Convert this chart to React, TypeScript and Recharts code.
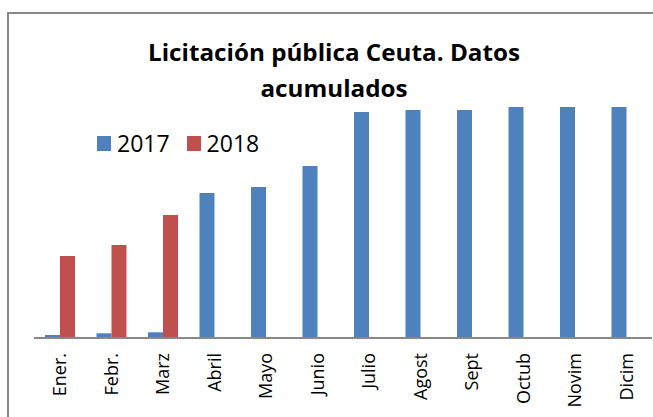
import React from 'react';
import { BarChart, Bar, XAxis, YAxis, Legend } from 'recharts';

const months = ['Ener.', 'Febr.', 'Marz', 'Abril', 'Mayo', 'Junio', 'Julio', 'Agost', 'Sept', 'Octub', 'Novim', 'Dicim'];
const values2017 = [3, 4.7, 5.7, 145, 151, 172, 226, 228, 228, 231, 231, 231];
const values2018 = [82, 93, 123, null, null, null, null, null, null, null, null, null];

const data = months.map((m, i) => ({ mes: m, y2017: values2017[i], y2018: values2018[i] }));

const FONT = '"Open Sans", "DejaVu Sans", sans-serif';

const MonthTick = (props: any) => {
    const { x, y, payload } = props;
    return (
        <text
            x={x}
            y={y}
            dy="0.35em"
            textAnchor="end"
            transform={`rotate(-90, ${x}, ${y})`}
            fontFamily={FONT}
            fontSize={18}
            fill="#000"
        >
            {payload.value}
        </text>
    );
};

const LegendRow = (props: any) => {
    const items = props.payload || [];
    return (
        <div style={{ display: 'flex', alignItems: 'center', fontFamily: FONT, fontSize: 23, color: '#000', whiteSpace: 'nowrap' }}>
            {items.map((it: any) => (
                <span key={it.value} style={{ display: 'inline-flex', alignItems: 'center', marginRight: 17 }}>
                    <span style={{ display: 'inline-block', width: 14, height: 15, background: it.color, marginRight: 6 }} />
                    {it.value}
                </span>
            ))}
        </div>
    );
};

const App: React.FC = () => (
    <div style={{ position: 'absolute', left: 0, top: 0, width: 653, height: 417, overflow: 'hidden', background: '#fff' }}>
        <div style={{ position: 'absolute', left: 7, top: 12, width: 700, height: 500, borderLeft: '2px solid #888', borderTop: '2px solid #888' }} />
        <svg style={{ position: 'absolute', left: 0, top: 0 }} width={653} height={110}>
            <text x={334} y={61} textAnchor="middle" fontFamily={FONT} fontWeight="bold" fontSize={23} textLength={372} lengthAdjust="spacingAndGlyphs" fill="#000">
                Licitación pública Ceuta. Datos
            </text>
            <text x={334} y={97} textAnchor="middle" fontFamily={FONT} fontWeight="bold" fontSize={23} textLength={147} lengthAdjust="spacingAndGlyphs" fill="#000">
                acumulados
            </text>
        </svg>
        <div style={{ position: 'absolute', left: 0, top: 0 }}>
            <BarChart width={653} height={417} data={data} margin={{ top: 88, right: 1, bottom: 0, left: 34 }} barGap={0} barSize={15}>
                <XAxis
                    dataKey="mes"
                    interval={0}
                    tickLine={false}
                    tickSize={0}
                    tickMargin={15}
                    tick={<MonthTick />}
                    axisLine={{ stroke: '#888', strokeWidth: 2 }}
                    height={79}
                />
                <YAxis hide domain={[0, 250]} />
                <Legend
                    layout="vertical"
                    verticalAlign="middle"
                    align="center"
                    content={<LegendRow />}
                    wrapperStyle={{ position: 'absolute', left: 97, top: 127, width: 220 }}
                />
                <Bar dataKey="y2017" name="2017" fill="#4F81BD" isAnimationActive={false} />
                <Bar dataKey="y2018" name="2018" fill="#C0504D" isAnimationActive={false} />
            </BarChart>
        </div>
    </div>
);

export default App;
